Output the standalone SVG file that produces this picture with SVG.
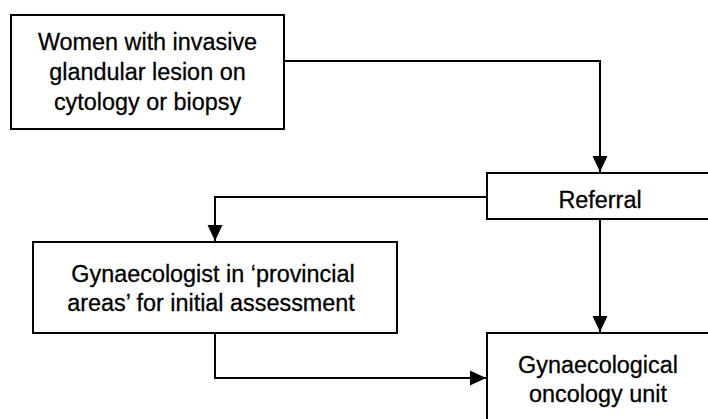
<svg xmlns="http://www.w3.org/2000/svg" width="708" height="419" viewBox="0 0 708 419">
  <style>
    .box { fill: #ffffff; stroke: #000000; stroke-width: 2; }
    .lbl { font-family: "Liberation Sans", Arial, sans-serif; font-size: 24.5px; fill: #000000; stroke: #000000; stroke-width: 0.3; text-anchor: middle; }
    .wire { fill: none; stroke: #000000; stroke-width: 2; }
  </style>
  <defs>
    <marker id="arrow" markerUnits="userSpaceOnUse" markerWidth="16" markerHeight="16" viewBox="0 0 15 14" refX="15" refY="7" orient="auto">
      <path d="M0,0 L15,7 L0,14 Z" fill="#000000"/>
    </marker>
  </defs>

  <g id="connectors">
    <!-- women box to referral -->
    <path class="wire" d="M284,61 H600 V172" marker-end="url(#arrow)"/>
    <!-- referral to provincial gynaecologist -->
    <path class="wire" d="M487,197 H215 V241" marker-end="url(#arrow)"/>
    <!-- referral to oncology unit -->
    <path class="wire" d="M600,219 V332" marker-end="url(#arrow)"/>
    <!-- provincial gynaecologist to oncology unit -->
    <path class="wire" d="M215,333 V378 H486" marker-end="url(#arrow)"/>
  </g>

  <!-- labels use a slightly condensed face: scaleX keeps the glyphs tall and narrow -->
  <g id="women">
    <rect class="box" x="11" y="15" width="273" height="114"/>
    <text class="lbl" transform="translate(147.5,50) scale(0.955,1)">Women with invasive</text>
    <text class="lbl" transform="translate(147.5,80) scale(0.955,1)">glandular lesion on</text>
    <text class="lbl" transform="translate(147.5,110) scale(0.955,1)">cytology or biopsy</text>
  </g>

  <g id="referral">
    <rect class="box" x="487" y="173" width="240" height="46"/>
    <text class="lbl" transform="translate(600,208) scale(0.955,1)">Referral</text>
  </g>

  <g id="gynaecologist">
    <rect class="box" x="33" y="242" width="364" height="91"/>
    <text class="lbl" transform="translate(213,282) scale(0.955,1)">Gynaecologist in ‘provincial</text>
    <text class="lbl" transform="translate(211,311) scale(0.955,1)">areas’ for initial assessment</text>
  </g>

  <g id="oncology">
    <rect class="box" x="487" y="333" width="240" height="100"/>
    <text class="lbl" transform="translate(598,373) scale(0.955,1)">Gynaecological</text>
    <text class="lbl" transform="translate(598,402) scale(0.955,1)">oncology unit</text>
  </g>
</svg>
